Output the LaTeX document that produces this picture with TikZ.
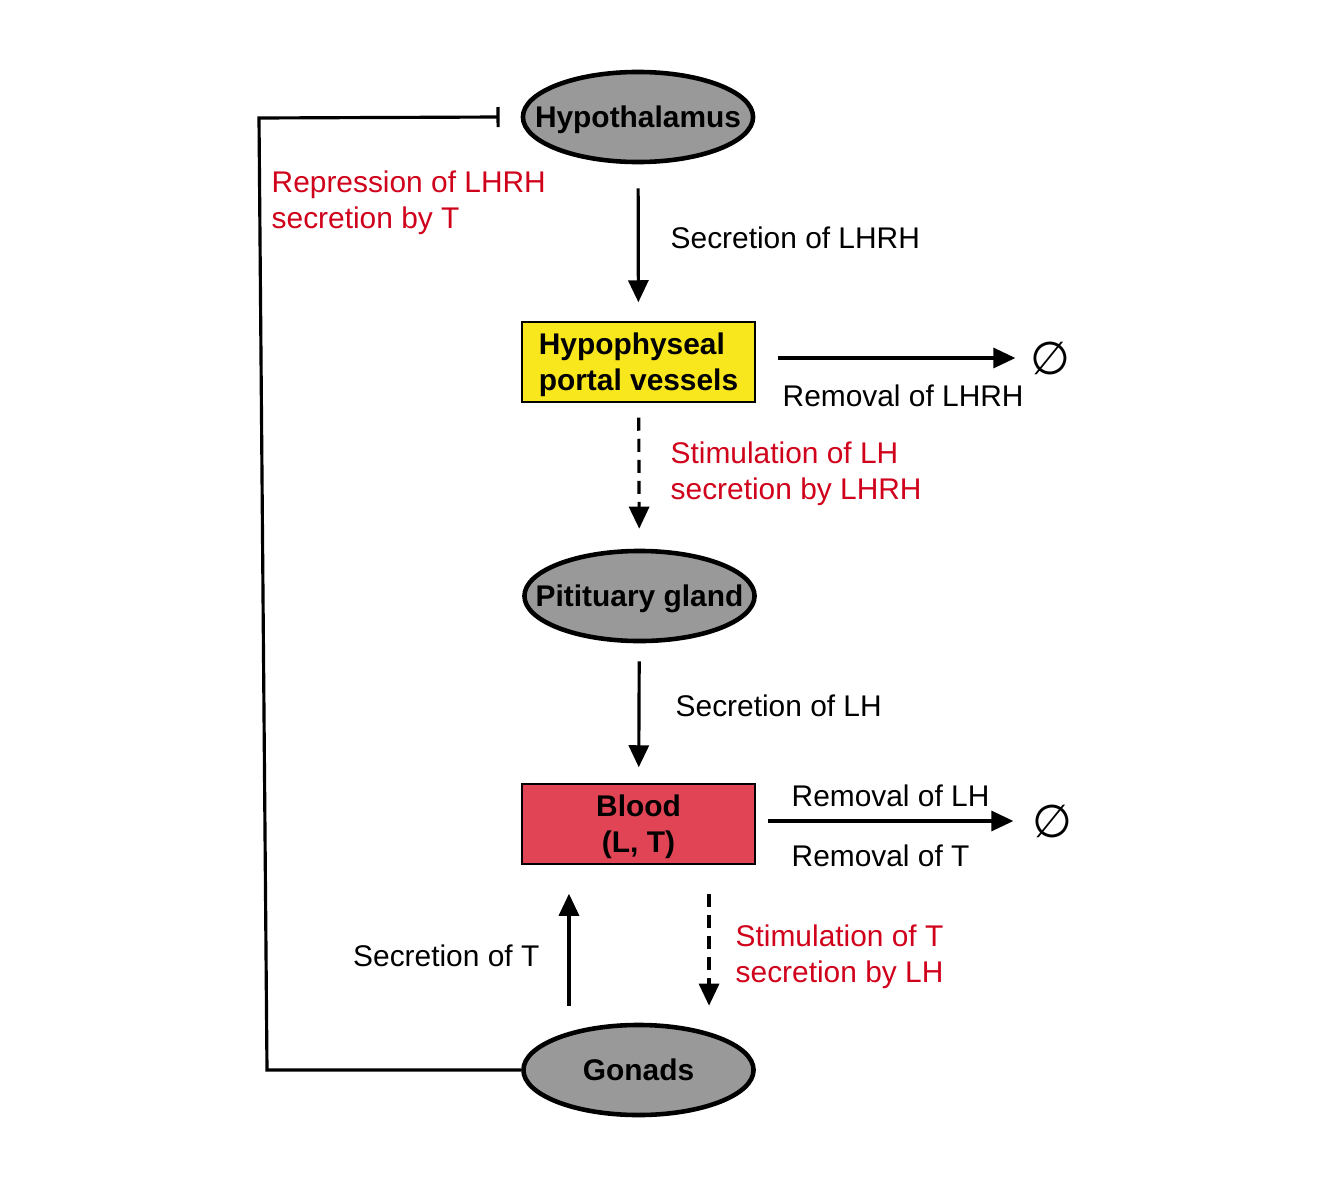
\documentclass[tikz,border=0pt]{standalone}
\usepackage{fontspec}
\setmainfont{Liberation Sans}
\newfontfamily\symfont{DejaVu Sans}
\usepackage{tikz}
\usetikzlibrary{shapes.geometric,arrows.meta}

\definecolor{organgray}{HTML}{999999}
\definecolor{portalyellow}{HTML}{F8E71C}
\definecolor{bloodred}{HTML}{E04455}
\definecolor{effectred}{HTML}{D0021B}

\tikzset{
  organ/.style={ellipse, draw, line width=1.3pt, fill=organgray, inner sep=0pt,
    font=\bfseries, minimum width=2.30cm, minimum height=0.90cm, text depth=0pt,
    execute at begin node=\hbox to 0pt\bgroup\hss,
    execute at end node=\hss\egroup},
  pool/.style={rectangle, draw, line width=0.4pt, inner sep=0pt, align=center,
    font=\bfseries, minimum width=2.33cm, minimum height=0.80cm, text depth=0pt},
  lbl/.style={inner sep=0pt, align=left},
  effect/.style={lbl, text=effectred},
  flow/.style={line width=0.9pt, -{Triangle[length=0.22cm, width=0.2cm]}},
  stim/.style={flow, dash pattern=on 0.13cm off 0.08cm},
  repress/.style={line width=0.9pt, -{Bar[width=0.2cm]}},
  sink/.style={inner sep=0pt, font=\symfont\fontsize{13}{13}\selectfont}
}

\begin{document}
\begin{tikzpicture}[x=0.01cm, y=-0.01cm]
  \fontsize{8.5}{10.2}\selectfont
  \useasboundingbox (0,0) rectangle (1324,1200);

  % compartments
  \node[organ] (hyp) at (638,117) {Hypothalamus};
  \node[pool, fill=portalyellow, align=left] (portal) at (638.5,362) {Hypophyseal\\portal vessels};
  \node[organ] (pit) at (639.5,596) {Pitituary gland};
  \node[pool, fill=bloodred] (blood) at (638.5,824) {Blood\\(L, T)};
  \node[organ] (gon) at (638.5,1070) {Gonads};
  \node[sink] (empty1) at (1050,358) {∅};
  \node[sink] (empty2) at (1052,821) {∅};

  % corners of the feedback line
  \coordinate (fbl) at (267,1070);
  \coordinate (fbt) at (259,118);

  % flows
  \draw[flow, shorten <=0.24cm, shorten >=0.19cm] (hyp) -- (portal);
  \draw[flow] ([xshift=0.22cm]portal.east |- empty1) -- ([xshift=-0.14cm]empty1.west);
  \draw[stim, shorten <=0.15cm, shorten >=0.20cm] (portal) -- (pit);
  \draw[flow, shorten <=0.18cm, shorten >=0.16cm] (pit) -- (blood);
  \draw[flow] ([xshift=0.12cm]blood.east |- empty2) -- ([xshift=-0.18cm]empty2.west);
  \draw[flow, shorten <=0.17cm, shorten >=0.29cm] ([xshift=-0.695cm]gon.north) -- ([xshift=-0.695cm]blood.south);
  \draw[stim, shorten <=0.29cm, shorten >=0.17cm] ([xshift=0.705cm]blood.south) -- ([xshift=0.705cm]gon.north);
  \draw[repress] (gon.west) -- (fbl) -- (fbt) -- ([xshift=-0.21cm]hyp.west);

  % labels
  \node[lbl, anchor=west] (l1) at (670,238) {Secretion of LHRH};
  \node[lbl, anchor=west] (l2) at (782,396) {Removal of LHRH};
  \node[effect, anchor=west] (l3) at (670,474) {Stimulation of LH\\secretion by LHRH};
  \node[lbl, anchor=west] (l4) at (675,706) {Secretion of LH};
  \node[lbl, anchor=west] (l5) at (791,796) {Removal of LH};
  \node[lbl, anchor=west] (l6) at (791,856) {Removal of T};
  \node[lbl, anchor=east] (l7) at (540,956) {Secretion of T};
  \node[effect, anchor=west] (l8) at (735,957) {Stimulation of T\\secretion by LH};
  \node[effect, anchor=west] (l9) at (271,203) {Repression of LHRH\\secretion by T};
\end{tikzpicture}
\end{document}
